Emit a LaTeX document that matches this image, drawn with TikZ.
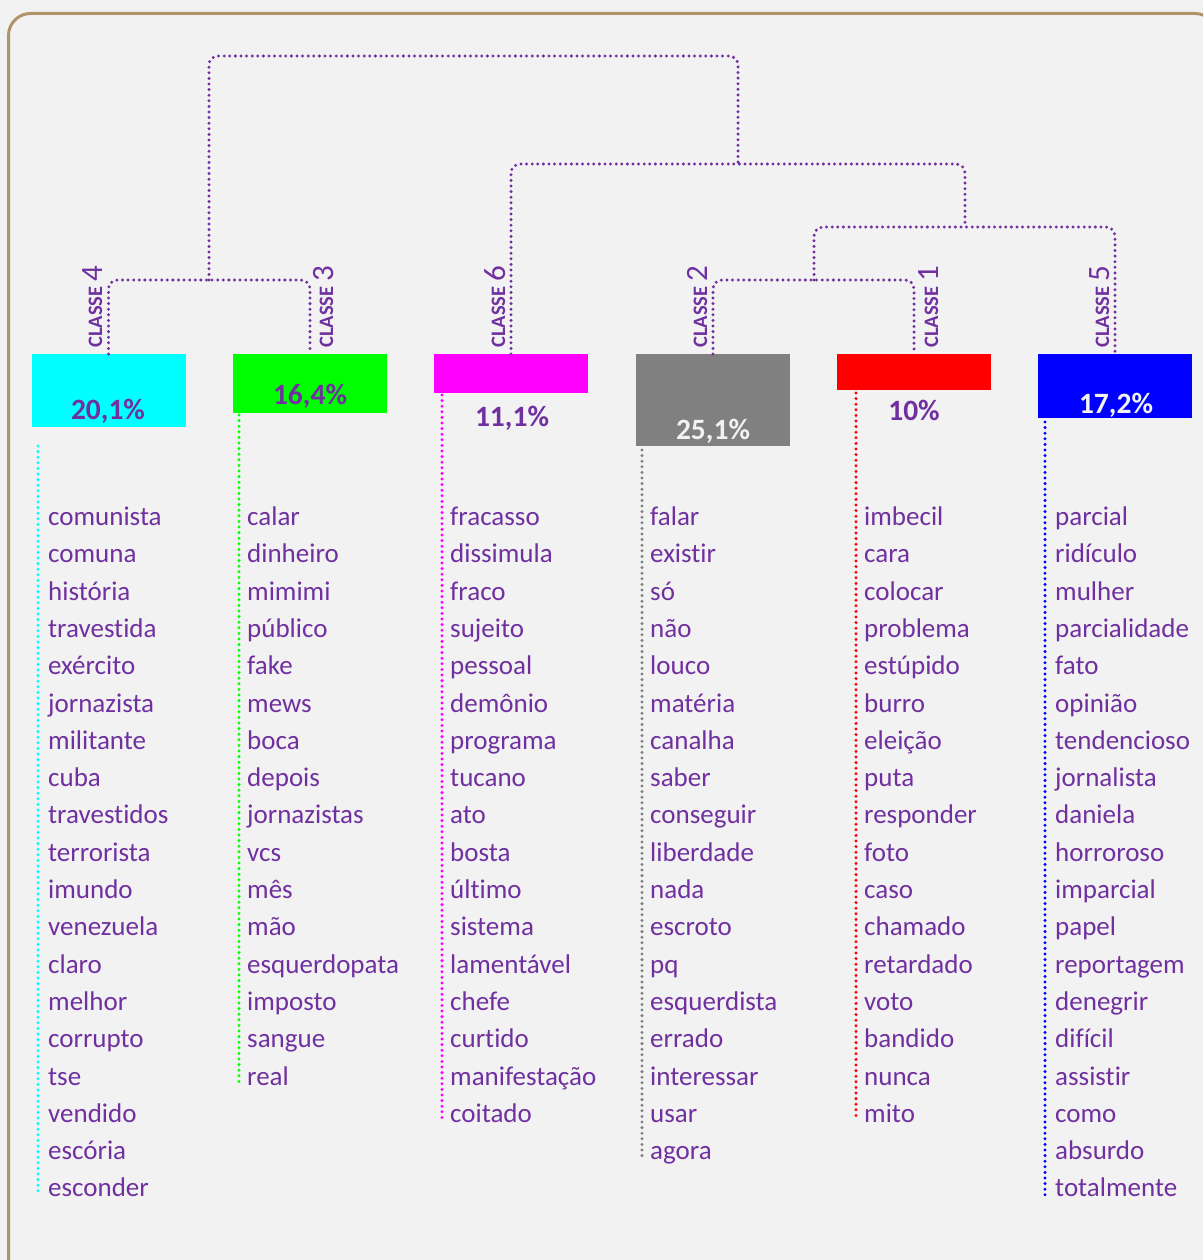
\documentclass[tikz,border=0pt]{standalone}
\usepackage{fontspec}
\setmainfont{Carlito}[Ligatures=NoCommon]
\definecolor{purp}{HTML}{7030A0}
\definecolor{bg}{HTML}{F2F2F2}
\definecolor{frame}{HTML}{B09467}
\definecolor{gbox}{HTML}{808080}
\definecolor{cyanc}{HTML}{00FFFF}
\definecolor{greenc}{HTML}{00FF00}
\definecolor{magc}{HTML}{FF00FF}
\definecolor{redc}{HTML}{FF0000}
\definecolor{bluec}{HTML}{0000FF}
\tikzset{
  dendro/.style={draw=purp, line width=3.3pt, line cap=round, dash pattern=on 0pt off 5.6pt, rounded corners=9pt},
  colline/.style={draw=#1, line width=3.3pt, line cap=round, dash pattern=on 0pt off 5.6pt},
  clbox/.style={inner sep=0pt, minimum width=154pt, anchor=north, draw=none},
  pct/.style={inner sep=0pt, anchor=base, font=\fontsize{29.5}{30}\selectfont\bfseries},
  classlbl/.style={inner sep=0pt, anchor=base west, rotate=90, text=purp},
  word/.style={inner sep=0pt, anchor=base west, text=purp, font=\fontsize{27}{30}\selectfont},
}
\newcommand{\clname}[1]{{\fontsize{20.5}{22}\selectfont\bfseries CLASSE}\hspace{5pt}{\fontsize{31}{32}\selectfont #1}}
\begin{document}
\begin{tikzpicture}[x=1pt,y=-1pt]
\useasboundingbox (0,0) rectangle (1203,1260);
\fill[bg] (0,0) rectangle (1203,1260);
\begin{scope}
\clip (0,0) rectangle (1203,1260);
\draw[frame, line width=3pt, rounded corners=22pt] (8.5,13.5) rectangle (1217,1282);
\end{scope}

% class boxes
\node[clbox, fill=cyanc, minimum height=73pt] (b4) at (108.5,354) {};
\node[clbox, fill=greenc, minimum height=59pt] (b3) at (310,354) {};
\node[clbox, fill=magc, minimum height=39pt] (b6) at (511,354) {};
\node[clbox, fill=gbox, minimum height=92pt] (b2) at (713,354) {};
\node[clbox, fill=redc, minimum height=36pt] (b1) at (914,354) {};
\node[clbox, fill=bluec, minimum height=64pt] (b5) at (1115,354) {};

% percentages
\node[pct, text=purp] (p4) at (108,419) {20,1\%};
\node[pct, text=purp] (p3) at (310,404) {16,4\%};
\node[pct, text=purp] (p6) at (512,426) {11,1\%};
\node[pct, text=bg] (p2) at (713,439) {25,1\%};
\node[pct, text=purp] (p1) at (914,420) {10\%};
\node[pct, text=bg] (p5) at (1116,413) {17,2\%};

% class labels
\node[classlbl] (l4) at (102,348) {\clname{4}};
\node[classlbl] (l3) at (333,348) {\clname{3}};
\node[classlbl] (l6) at (505,348) {\clname{6}};
\node[classlbl] (l2) at (707,348) {\clname{2}};
\node[classlbl] (l1) at (938,348) {\clname{1}};
\node[classlbl] (l5) at (1109,348) {\clname{5}};

% dendrogram junctions
\coordinate (j43) at (209,280);
\coordinate (jtop) at (473,56);
\coordinate (j6125) at (738,164);
\coordinate (j125) at (965,227);
\coordinate (j21) at (814,280);

\draw[dendro] (b4.north) |- (j43) -| (b3.north);
\draw[dendro] (j43) |- (jtop) -| (j6125);
\draw[dendro] (b6.north) |- (j6125) -| (j125);
\draw[dendro] (j21) |- (j125) -| (b5.north);
\draw[dendro] (b2.north) |- (j21) -| (b1.north);

% column lines
\coordinate (c4a) at (38,446); \coordinate (c4b) at (38,1195);
\coordinate (c3a) at (239,415); \coordinate (c3b) at (239,1083);
\coordinate (c6a) at (442,395); \coordinate (c6b) at (442,1120);
\coordinate (c2a) at (642,450); \coordinate (c2b) at (642,1158);
\coordinate (c1a) at (856,393); \coordinate (c1b) at (856,1120);
\coordinate (c5a) at (1045,422); \coordinate (c5b) at (1045,1195);
\draw[colline=cyanc] (c4a) -- (c4b);
\draw[colline=greenc] (c3a) -- (c3b);
\draw[colline=magc] (c6a) -- (c6b);
\draw[colline=gbox] (c2a) -- (c2b);
\draw[colline=redc] (c1a) -- (c1b);
\draw[colline=bluec] (c5a) -- (c5b);

% words
\foreach \w [count=\i from 0] in {comunista,comuna,história,travestida,exército,jornazista,militante,cuba,travestidos,terrorista,imundo,venezuela,claro,melhor,corrupto,tse,vendido,escória,esconder}
  \node[word] (wa\i) at (48,525.5+37.3*\i) {\w};
\foreach \w [count=\i from 0] in {calar,dinheiro,mimimi,público,fake,mews,boca,depois,jornazistas,vcs,mês,mão,esquerdopata,imposto,sangue,real}
  \node[word] (wb\i) at (247,525.5+37.3*\i) {\w};
\foreach \w [count=\i from 0] in {fracasso,dissimula,fraco,sujeito,pessoal,demônio,programa,tucano,ato,bosta,último,sistema,lamentável,chefe,curtido,manifestação,coitado}
  \node[word] (wc\i) at (450,525.5+37.3*\i) {\w};
\foreach \w [count=\i from 0] in {falar,existir,só,não,louco,matéria,canalha,saber,conseguir,liberdade,nada,escroto,pq,esquerdista,errado,interessar,usar,agora}
  \node[word] (wd\i) at (650,525.5+37.3*\i) {\w};
\foreach \w [count=\i from 0] in {imbecil,cara,colocar,problema,estúpido,burro,eleição,puta,responder,foto,caso,chamado,retardado,voto,bandido,nunca,mito}
  \node[word] (we\i) at (864,525.5+37.3*\i) {\w};
\foreach \w [count=\i from 0] in {parcial,ridículo,mulher,parcialidade,fato,opinião,tendencioso,jornalista,daniela,horroroso,imparcial,papel,reportagem,denegrir,difícil,assistir,como,absurdo,totalmente}
  \node[word] (wf\i) at (1055,525.5+37.3*\i) {\w};
\end{tikzpicture}
\end{document}
